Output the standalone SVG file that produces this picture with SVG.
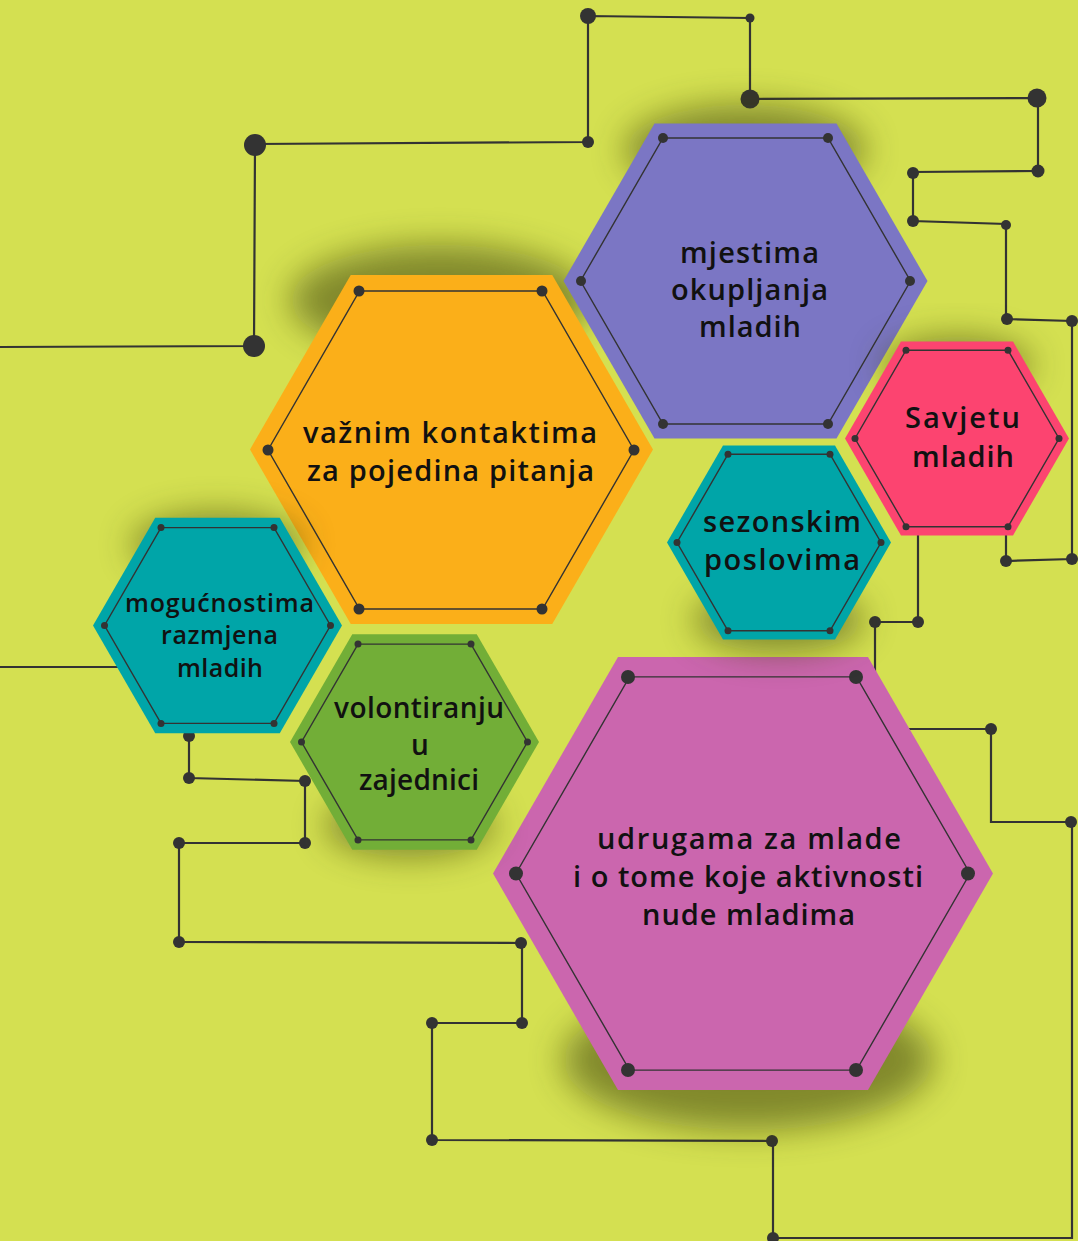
<svg xmlns="http://www.w3.org/2000/svg" width="1078" height="1241" viewBox="0 0 1078 1241">
<defs>
<style>
.ln{fill:none;stroke:#333;stroke-width:2.2;stroke-linejoin:miter}
.d{fill:#333}
.in{fill:none;stroke:#333;stroke-width:1.4}
.sh{fill:#3d4210;opacity:0.55;filter:url(#blur)}
.t{font-family:"Open Sans","Noto Sans",sans-serif;font-weight:600;fill:#111;text-anchor:middle}
</style>
<filter id="blur" x="-60%" y="-60%" width="220%" height="220%"><feGaussianBlur stdDeviation="17"/></filter>
</defs>
<rect width="1078" height="1241" fill="#d4e051"/>
<g id="connectors">
<polyline class="ln" points="0,347 254,346 255,144 588,142 588,16 750,18 750,99 1038,98 1038,171 913,172 913,221 1006,224 1006,319 1072,321 1072,559 1006,561 1006,530"/>
<polyline class="ln" points="918,530 918,622 875,622 875,672"/>
<polyline class="ln" points="880,729 991,729 991,822 1072,822 1072,1238 773,1238 773,1141 432,1140 432,1023 522,1023 522,943 179,942 179,843 305,843 305,781 189,778 189,730"/>
<line class="ln" x1="0" y1="667" x2="130" y2="667"/>
<circle class="d" cx="255" cy="145" r="11"/>
<circle class="d" cx="254" cy="346" r="11"/>
<circle class="d" cx="588" cy="142" r="6"/>
<circle class="d" cx="588" cy="16" r="8"/>
<circle class="d" cx="750" cy="18" r="4.5"/>
<circle class="d" cx="750" cy="99" r="9.5"/>
<circle class="d" cx="1037" cy="98" r="9.5"/>
<circle class="d" cx="1038" cy="171" r="6.5"/>
<circle class="d" cx="913" cy="173" r="6"/>
<circle class="d" cx="913" cy="221" r="6"/>
<circle class="d" cx="1006" cy="225" r="5"/>
<circle class="d" cx="1007" cy="319" r="6"/>
<circle class="d" cx="1072" cy="321" r="6"/>
<circle class="d" cx="1072" cy="559" r="6"/>
<circle class="d" cx="1006" cy="561" r="6"/>
<circle class="d" cx="918" cy="622" r="6"/>
<circle class="d" cx="875" cy="622" r="6"/>
<circle class="d" cx="991" cy="729" r="6"/>
<circle class="d" cx="1071" cy="822" r="6"/>
<circle class="d" cx="773" cy="1238" r="6"/>
<circle class="d" cx="772" cy="1141" r="6"/>
<circle class="d" cx="432" cy="1140" r="6"/>
<circle class="d" cx="432" cy="1023" r="6"/>
<circle class="d" cx="522" cy="1023" r="6"/>
<circle class="d" cx="521" cy="943" r="6"/>
<circle class="d" cx="179" cy="942" r="6"/>
<circle class="d" cx="179" cy="843" r="6"/>
<circle class="d" cx="305" cy="843" r="6"/>
<circle class="d" cx="305" cy="781" r="6"/>
<circle class="d" cx="189" cy="778" r="6"/>
<circle class="d" cx="189" cy="736" r="6"/>
</g>
<g id="node-udrugama">
<ellipse class="sh" cx="748" cy="1060" rx="185" ry="70"/>
<polygon fill="#cb66ae" points="618,657 868,657 993,873.5 868,1090 618,1090 493,873.5"/>
<polygon class="in" points="629.5,676.9 856.5,676.9 970,873.5 856.5,1070.1 629.5,1070.1 516,873.5"/>
<g class="d"><circle cx="628" cy="677" r="7"/><circle cx="856" cy="677" r="7"/><circle cx="968" cy="873.5" r="7"/><circle cx="856" cy="1070" r="7"/><circle cx="628" cy="1070" r="7"/><circle cx="516" cy="873.5" r="7"/></g>
<text class="t" font-size="29" x="749" y="849" textLength="304" lengthAdjust="spacing">udrugama za mlade</text>
<text class="t" font-size="29" x="748" y="887" textLength="350" lengthAdjust="spacing">i o tome koje aktivnosti</text>
<text class="t" font-size="29" x="748.5" y="925" textLength="213" lengthAdjust="spacing">nude mladima</text>
</g>
<g id="node-vaznim">
<ellipse class="sh" cx="440" cy="300" rx="150" ry="55"/>
<polygon fill="#fbaf19" points="350.75,275 552.25,275 653,449.5 552.25,624 350.75,624 250,449.5"/>
<polygon class="in" points="359.5,291 542.5,291 634,450 542.5,609 359.5,609 268,450"/>
<g class="d"><circle cx="359" cy="291" r="5.5"/><circle cx="542" cy="291" r="5.5"/><circle cx="634" cy="450" r="5.5"/><circle cx="542" cy="609" r="5.5"/><circle cx="359" cy="609" r="5.5"/><circle cx="268" cy="450" r="5.5"/></g>
<text class="t" font-size="29" x="450" y="443" textLength="294" lengthAdjust="spacing">važnim kontaktima</text>
<text class="t" font-size="29" x="450.5" y="481" textLength="287" lengthAdjust="spacing">za pojedina pitanja</text>
</g>
<g id="node-mjestima">
<ellipse class="sh" cx="745" cy="150" rx="120" ry="45"/>
<polygon fill="#7b76c4" points="654.5,123.4 836.5,123.4 927.5,281 836.5,438.6 654.5,438.6 563.5,281"/>
<polygon class="in" points="663,138 828,138 910.5,281 828,424 663,424 580.5,281"/>
<g class="d"><circle cx="663" cy="138" r="5"/><circle cx="828" cy="138" r="5"/><circle cx="910" cy="281" r="5"/><circle cx="828" cy="424" r="5"/><circle cx="663" cy="424" r="5"/><circle cx="581" cy="281" r="5"/></g>
<text class="t" font-size="29" x="749.5" y="263" textLength="139" lengthAdjust="spacing">mjestima</text>
<text class="t" font-size="29" x="749.5" y="300" textLength="157" lengthAdjust="spacing">okupljanja</text>
<text class="t" font-size="29" x="750" y="337" textLength="102" lengthAdjust="spacing">mladih</text>
</g>
<g id="node-savjetu">
<ellipse class="sh" cx="957" cy="365" rx="75" ry="28"/>
<polygon fill="#fc4470" points="901,341.5 1013,341.5 1069,438.5 1013,535.5 901,535.5 845,438.5"/>
<polygon class="in" points="906,350.2 1008,350.2 1059,438.5 1008,526.8 906,526.8 855,438.5"/>
<g class="d"><circle cx="906" cy="350.2" r="3.5"/><circle cx="1008" cy="350.2" r="3.5"/><circle cx="1059" cy="438.5" r="3.5"/><circle cx="1008" cy="526.8" r="3.5"/><circle cx="906" cy="526.8" r="3.5"/><circle cx="855" cy="438.5" r="3.5"/></g>
<text class="t" font-size="29" x="962.5" y="428" textLength="115" lengthAdjust="spacing">Savjetu</text>
<text class="t" font-size="29" x="963" y="467" textLength="102" lengthAdjust="spacing">mladih</text>
</g>
<g id="node-sezonskim">
<ellipse class="sh" cx="779" cy="620" rx="85" ry="32"/>
<polygon fill="#00a5a8" points="723,445.5 835,445.5 891,542.5 835,639.5 723,639.5 667,542.5"/>
<polygon class="in" points="728,454.2 830,454.2 881,542.5 830,630.8 728,630.8 677,542.5"/>
<g class="d"><circle cx="728" cy="454.2" r="3.5"/><circle cx="830" cy="454.2" r="3.5"/><circle cx="881" cy="542.5" r="3.5"/><circle cx="830" cy="630.8" r="3.5"/><circle cx="728" cy="630.8" r="3.5"/><circle cx="677" cy="542.5" r="3.5"/></g>
<text class="t" font-size="29" x="782" y="532" textLength="158" lengthAdjust="spacing">sezonskim</text>
<text class="t" font-size="29" x="782" y="570" textLength="156" lengthAdjust="spacing">poslovima</text>
</g>
<g id="node-mogucnostima">
<ellipse class="sh" cx="217" cy="545" rx="85" ry="32"/>
<polygon fill="#00a5a8" points="155.25,517.7 279.75,517.7 342,625.5 279.75,733.3 155.25,733.3 93,625.5"/>
<polygon class="in" points="161,527.6 274,527.6 330.5,625.5 274,723.4 161,723.4 104.5,625.5"/>
<g class="d"><circle cx="161" cy="527.6" r="3.5"/><circle cx="274" cy="527.6" r="3.5"/><circle cx="330.5" cy="625.5" r="3.5"/><circle cx="274" cy="723.4" r="3.5"/><circle cx="161" cy="723.4" r="3.5"/><circle cx="104.5" cy="625.5" r="3.5"/></g>
<text class="t" font-size="25" x="219.5" y="612" textLength="189" lengthAdjust="spacing">mogućnostima</text>
<text class="t" font-size="25" x="219.5" y="644" textLength="117" lengthAdjust="spacing">razmjena</text>
<text class="t" font-size="25" x="220" y="677" textLength="86" lengthAdjust="spacing">mladih</text>
</g>
<g id="node-volontiranju">
<ellipse class="sh" cx="410" cy="825" rx="85" ry="32"/>
<polygon fill="#72ae37" points="352.25,634.2 476.75,634.2 539,742 476.75,849.8 352.25,849.8 290,742"/>
<polygon class="in" points="358,644.1 471,644.1 527.5,742 471,839.9 358,839.9 301.5,742"/>
<g class="d"><circle cx="358" cy="644.1" r="3.5"/><circle cx="471" cy="644.1" r="3.5"/><circle cx="527.5" cy="742" r="3.5"/><circle cx="471" cy="839.9" r="3.5"/><circle cx="358" cy="839.9" r="3.5"/><circle cx="301.5" cy="742" r="3.5"/></g>
<text class="t" font-size="28" x="419" y="718" textLength="170" lengthAdjust="spacing">volontiranju</text>
<text class="t" font-size="28" x="420" y="755">u</text>
<text class="t" font-size="28" x="419" y="790" textLength="120" lengthAdjust="spacing">zajednici</text>
</g>
</svg>
